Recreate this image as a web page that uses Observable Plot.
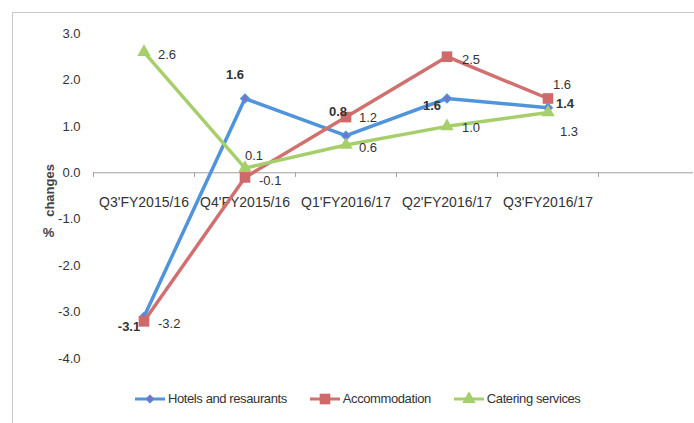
<!DOCTYPE html>
<html>
<head>
<meta charset="utf-8">
<script src="https://cdn.jsdelivr.net/npm/d3@7"></script>
<script src="https://cdn.jsdelivr.net/npm/@observablehq/plot@0.6"></script>
<style>
  body { margin: 0; background: #fff; }
  #wrap { position: relative; width: 694px; height: 423px; overflow: hidden; font-family: "Liberation Sans Narrow", "Arial Narrow", "Liberation Sans", sans-serif; color: #333; }
  #frame { position: absolute; left: 12px; top: 12px; width: 700px; height: 420px; border-left: 1px solid #c8c8c8; border-top: 1px solid #c8c8c8; }
  #chart { position: absolute; left: 0; top: 0; }
  #legend { position: absolute; left: 134px; top: 391px; display: flex; gap: 22px; font-size: 13px; letter-spacing: -0.4px; color: #333; }
  .item { display: flex; align-items: center; gap: 2px; }
</style>
</head>
<body>
<div id="wrap">
  <div id="frame"></div>
  <div id="chart"></div>
  <div id="legend"></div>
</div>
<script>
const categories = ["Q3'FY2015/16", "Q4'FY2015/16", "Q1'FY2016/17", "Q2'FY2016/17", "Q3'FY2016/17"];
const seriesNames = ["Hotels and resaurants", "Accommodation", "Catering services"];
const hotels = [-3.1, 1.6, 0.8, 1.6, 1.4];
const accommodation = [-3.2, -0.1, 1.2, 2.5, 1.6];
const catering = [2.6, 0.1, 0.6, 1.0, 1.3];
const yTicks = [-4, -3, -2, -1, 0, 1, 2, 3];

// layout configuration (not data)
const styles = {
  "Hotels and resaurants": {line: "#4f94dc", fill: "#7a72c6", symbol: "diamond2", r: 3.8},
  "Accommodation": {line: "#d0706f", fill: "#d06a6a", symbol: "square", r: 6},
  "Catering services": {line: "#a6cf6c", fill: "#a6cf6c", symbol: "triangle", r: 5}
};
const labelOffsets = {
  "Hotels and resaurants": [[-15, 10, "middle"], [-10, -24, "middle"], [-8, -24, "middle"], [-15, 7, "middle"], [8, -4, "start"]],
  "Accommodation": [[14, 2, "start"], [14, 3, "start"], [13, 1, "start"], [15, 3, "start"], [5, -14, "start"]],
  "Catering services": [[14, 3, "start"], [0, -12, "start"], [13, 3, "start"], [15, 1, "start"], [12, 19, "start"]]
};

const valuesBySeries = {
  "Hotels and resaurants": hotels,
  "Accommodation": accommodation,
  "Catering services": catering
};
const rows = seriesNames.flatMap(s => valuesBySeries[s].map((v, i) => ({series: s, i, value: v})));
const boundaries = d3.range(categories.length + 2).map(k => k - 0.5);
const font = "'Liberation Sans Narrow', 'Arial Narrow', 'Liberation Sans', sans-serif";

const marks = [
  Plot.ruleY([0], {stroke: "#a0a0a0", strokeWidth: 1}),
  Plot.ruleX(boundaries, {x: d => d, y1: 0, y2: -0.1, stroke: "#a0a0a0"}),
  Plot.text(categories, {x: (d, i) => i, y: 0, dy: 30, text: d => d, fontSize: 14, fill: "#333", lineAnchor: "middle"}),
  Plot.axisY({ticks: yTicks, tickFormat: d => d.toFixed(1), tickSize: 0, tickPadding: 13, label: null, fontSize: 13, color: "#333"}),
  Plot.text(["changes"], {frameAnchor: "left", y: -0.38, dx: -44, rotate: -90, textAnchor: "middle", fontSize: 13, fontWeight: "bold", fill: "#444"}),
  Plot.text(["%"], {frameAnchor: "left", y: -1.3, dx: -45, textAnchor: "middle", fontSize: 13, fontWeight: "bold", fill: "#444"})
];
for (const s of seriesNames) {
  const data = rows.filter(d => d.series === s);
  const st = styles[s];
  marks.push(Plot.line(data, {x: "i", y: "value", stroke: st.line, strokeWidth: 3.5, strokeLinejoin: "round"}));
  marks.push(Plot.dot(data, {x: "i", y: "value", symbol: st.symbol, r: st.r, fill: st.fill, stroke: s === "Hotels and resaurants" ? st.line : "none", strokeWidth: 1.5}));
}
for (const d of rows) {
  const o = labelOffsets[d.series][d.i];
  marks.push(Plot.text([d], {
    x: "i", y: "value", text: v => v.value.toFixed(1),
    dx: o[0], dy: o[1], textAnchor: o[2], fontSize: 13, fill: "#333",
    fontWeight: d.series === "Hotels and resaurants" ? "bold" : "normal"
  }));
}

const chart = Plot.plot({
  width: 694,
  height: 385,
  marginLeft: 93,
  marginRight: 1,
  marginTop: 33,
  marginBottom: 27,
  style: {fontFamily: font, background: "transparent", overflow: "visible"},
  x: {domain: [-0.5, 5.5], range: [93, 699], axis: null},
  y: {domain: [-4, 3]},
  marks
});
document.getElementById("chart").append(chart);

// legend
const legend = document.getElementById("legend");
for (const s of seriesNames) {
  const st = styles[s];
  const item = document.createElement("div");
  item.className = "item";
  const sw = d3.create("svg").attr("width", 32).attr("height", 14);
  sw.append("line").attr("x1", 1).attr("x2", 31).attr("y1", 7).attr("y2", 7).attr("stroke", st.line).attr("stroke-width", 3);
  const sym = st.symbol === "diamond2" ? d3.symbolDiamond2 : st.symbol === "square" ? d3.symbolSquare : d3.symbolTriangle;
  sw.append("path").attr("transform", "translate(16,7)").attr("d", d3.symbol(sym, Math.PI * st.r * st.r)()).attr("fill", st.fill)
    .attr("stroke", s === "Hotels and resaurants" ? st.line : "none");
  item.append(sw.node());
  const t = document.createElement("span");
  t.textContent = s;
  item.append(t);
  legend.append(item);
}
</script>
</body>
</html>
